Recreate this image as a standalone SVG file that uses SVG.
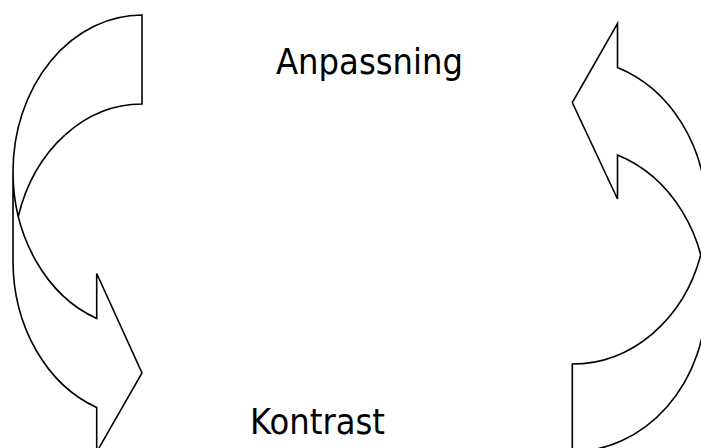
<svg xmlns="http://www.w3.org/2000/svg" width="701" height="448" viewBox="0 0 701 448">
  <style>
    .arrow { fill: none; stroke: #000; stroke-width: 1.6; stroke-linejoin: miter; }
    .label { font-family: "DejaVu Sans", "Liberation Sans", sans-serif; font-size: 36px; fill: #000; }
  </style>
  <rect width="701" height="448" fill="#fff"/>
  <g id="arrow-left">
    <path class="arrow" d="M 13 171.75 A 129 156.75 0 0 0 96.7 318.5 L 96.7 273.5 L 142 373 L 96.7 452 L 96.7 407.5 A 129 156.75 0 0 1 13 260.75 L 13 171.75 A 129 156.75 0 0 1 142 15 L 142 104 A 129 156.75 0 0 0 18.3 216.25"/>
  </g>
  <g id="arrow-right">
    <path class="arrow" d="M 706.3 298.8 A 134 152.7 0 0 0 617.5 155.05 L 617.5 199 L 572.3 102.5 L 617.5 23.5 L 617.5 67.55 A 134 152.7 0 0 1 706.3 211.3 L 706.3 298.8 A 134 152.7 0 0 1 572.3 451.5 L 572.3 364 A 134 152.7 0 0 0 700.7 255.05"/>
  </g>
  <g id="label-anpassning">
    <text class="label" x="276" y="74" textLength="187" lengthAdjust="spacingAndGlyphs">Anpassning</text>
  </g>
  <g id="label-kontrast">
    <text class="label" x="250" y="434" textLength="135" lengthAdjust="spacingAndGlyphs">Kontrast</text>
  </g>
</svg>
